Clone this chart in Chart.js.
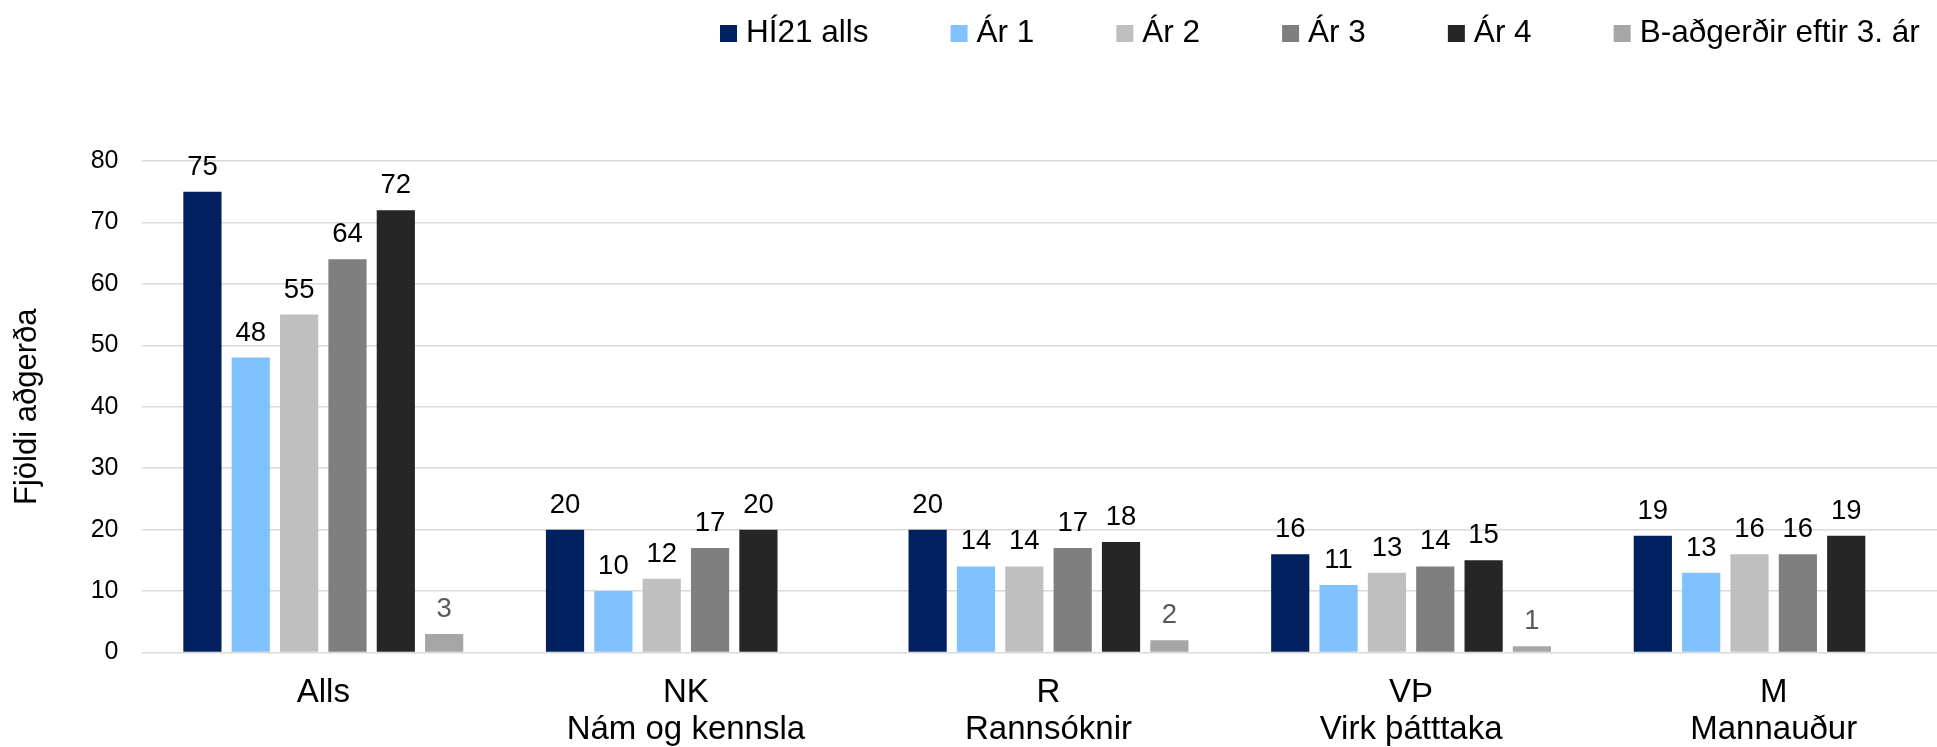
<!DOCTYPE html>
<html>
<head>
<meta charset="utf-8">
<script src="https://cdn.jsdelivr.net/npm/chart.js@4/dist/chart.umd.min.js"></script>
<style>
  html, body { margin: 0; padding: 0; background: #fff; overflow: hidden; }
  #wrap { width: 1960px; height: 747px; position: relative; }
</style>
</head>
<body>
<div id="wrap"><canvas id="c"></canvas></div>
<script>
// ---- Data ----
const categories = ['Alls', ['NK', 'Nám og kennsla'], ['R', 'Rannsóknir'], ['VÞ', 'Virk þátttaka'], ['M', 'Mannauður']];
const seriesNames = ['HÍ21 alls', 'Ár 1', 'Ár 2', 'Ár 3', 'Ár 4', 'B-aðgerðir eftir 3. ár'];
const hi21Alls = [75, 20, 20, 16, 19];
const ar1 = [48, 10, 14, 11, 13];
const ar2 = [55, 12, 14, 13, 16];
const ar3 = [64, 17, 17, 14, 16];
const ar4 = [72, 20, 18, 15, 19];
const bAdgerdir = [3, null, 2, 1, null];
const yTicks = [0, 10, 20, 30, 40, 50, 60, 70, 80];
const yTitle = 'Fjöldi aðgerða';

// ---- Styles ----
const colors = ['#002060', '#80C1FF', '#BFBFBF', '#7F7F7F', '#262626', '#A6A6A6'];
const labelColors = ['#000', '#000', '#000', '#000', '#000', '#595959'];
const FONT = '"Liberation Sans", Arial, sans-serif';

const seriesData = [hi21Alls, ar1, ar2, ar3, ar4, bAdgerdir];

const valueLabels = {
  id: 'valueLabels',
  afterDatasetsDraw(chart) {
    const ctx = chart.ctx;
    ctx.save();
    ctx.font = '27.5px ' + FONT;
    ctx.textAlign = 'center';
    ctx.textBaseline = 'alphabetic';
    chart.data.datasets.forEach((ds, i) => {
      const meta = chart.getDatasetMeta(i);
      meta.data.forEach((bar, j) => {
        const v = ds.data[j];
        if (v === null || v === undefined) return;
        ctx.fillStyle = labelColors[i];
        ctx.fillText(String(v), bar.x, bar.y - 17);
      });
    });
    ctx.restore();
  }
};

const customLegend = {
  id: 'customLegend',
  afterDraw(chart) {
    const ctx = chart.ctx;
    ctx.save();
    ctx.font = '31.5px ' + FONT;
    ctx.textBaseline = 'alphabetic';
    ctx.textAlign = 'left';
    let x = 720;
    chart.data.datasets.forEach((ds) => {
      ctx.fillStyle = ds.backgroundColor;
      ctx.fillRect(x, 25, 17, 17);
      ctx.fillStyle = '#000';
      const tx = x + 26;
      ctx.fillText(ds.label, tx, 42);
      x = tx + ctx.measureText(ds.label).width + 82;
    });
    ctx.restore();
  }
};

new Chart(document.getElementById('c'), {
  type: 'bar',
  data: {
    labels: categories,
    datasets: seriesData.map((d, i) => ({
      label: seriesNames[i],
      data: d,
      backgroundColor: colors[i],
      borderWidth: 0,
      categoryPercentage: 0.8,
      barPercentage: 0.79
    }))
  },
  options: {
    responsive: true,
    maintainAspectRatio: false,
    animation: false,
    layout: { padding: { top: 161, right: 5, left: 0, bottom: 0 } },
    plugins: {
      legend: { display: false },
      tooltip: { enabled: false }
    },
    scales: {
      x: {
        grid: { display: false, drawTicks: false },
        border: { display: false },
        ticks: {
          color: '#000',
          font: { family: FONT, size: 33, lineHeight: 1.12 },
          padding: 21.5,
          maxRotation: 0,
          autoSkip: false
        },
        afterFit(scale) { scale.height = 94.5; }
      },
      y: {
        min: 0,
        max: 80,
        afterBuildTicks(scale) { scale.ticks = yTicks.map(v => ({ value: v })); },
        grid: { color: '#D9D9D9', lineWidth: 1.5, drawTicks: false },
        border: { display: false },
        ticks: {
          color: '#000',
          font: { family: FONT, size: 25 },
          padding: 23.5
        },
        title: {
          display: true,
          text: yTitle,
          color: '#000',
          font: { family: FONT, size: 31 },
          padding: { top: 9, bottom: 0 }
        },
        afterFit(scale) { scale.width = 142; }
      }
    }
  },
  plugins: [valueLabels, customLegend]
});
</script>
</body>
</html>
